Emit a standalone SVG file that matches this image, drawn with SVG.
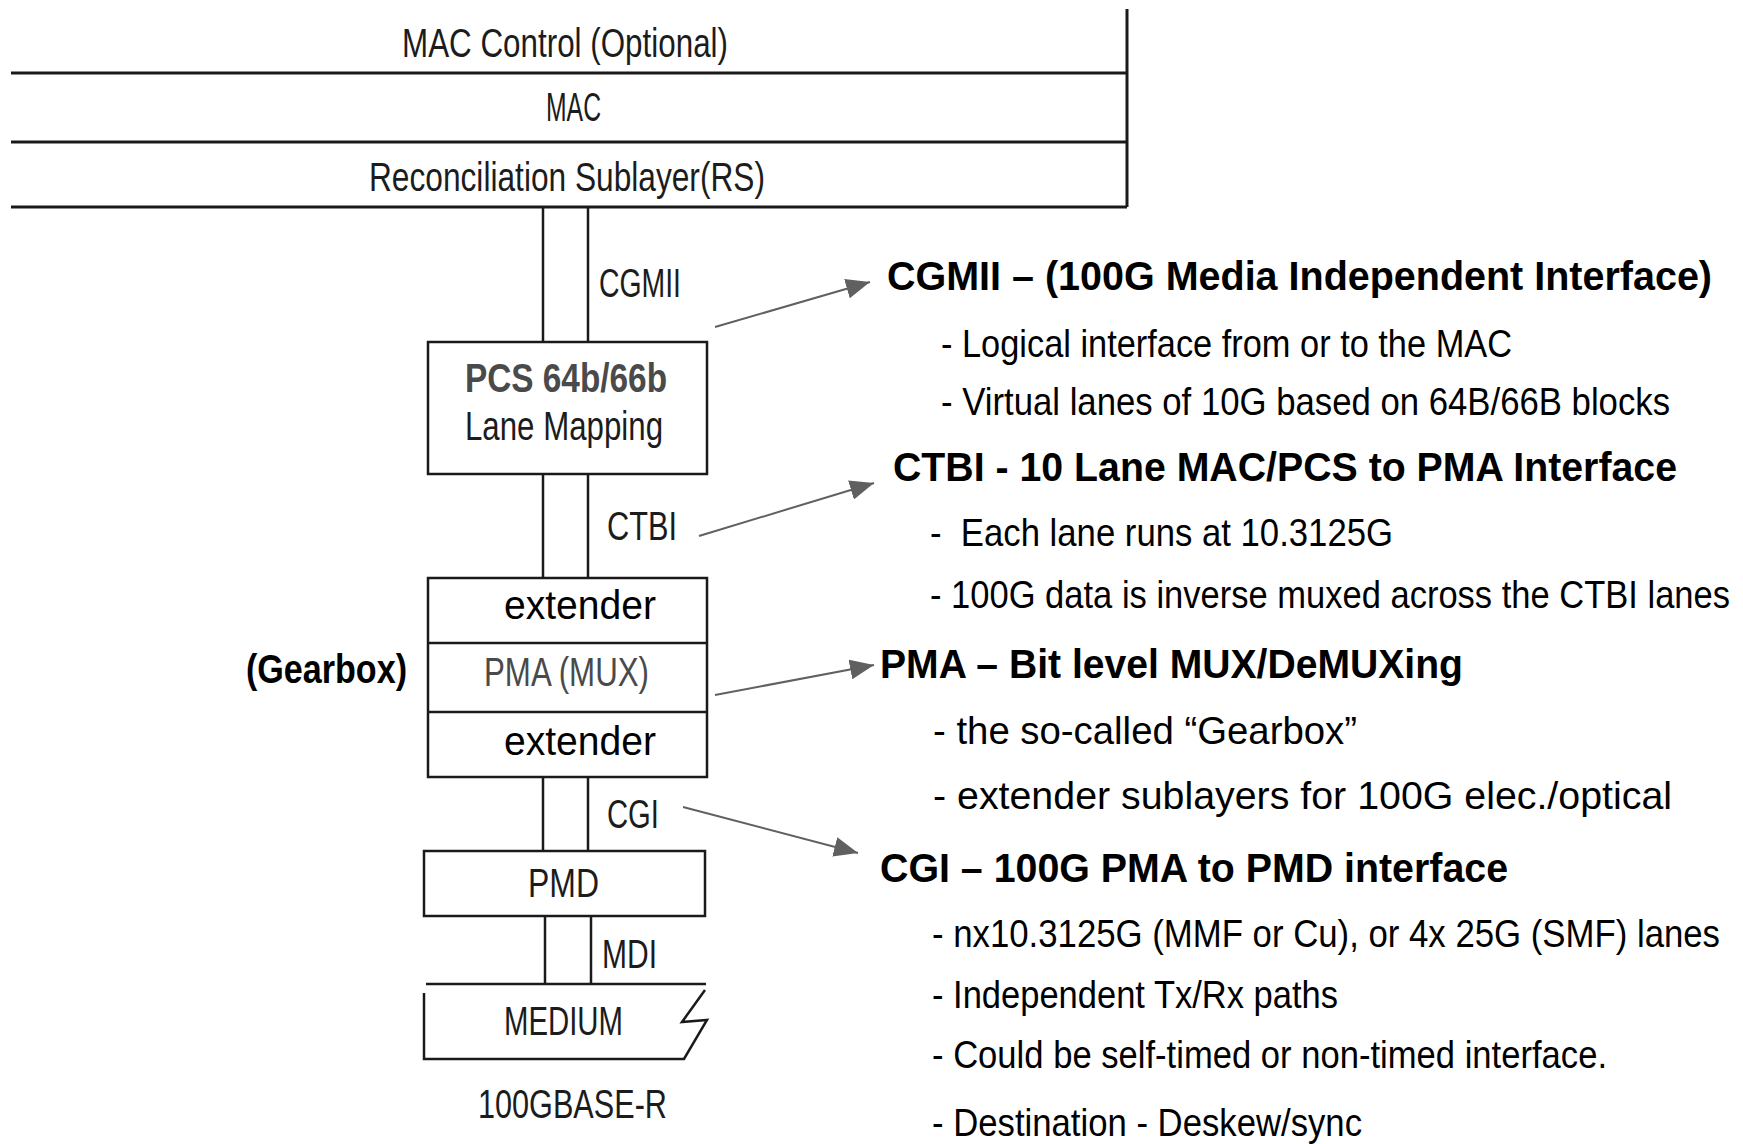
<svg xmlns="http://www.w3.org/2000/svg" width="1743" height="1144" viewBox="0 0 1743 1144">
  <defs>
    <style>
      .ln { stroke: #1a1a1a; stroke-width: 2.5; fill: none; }
      .bar { stroke: #1a1a1a; stroke-width: 3; fill: none; }
      .box { stroke: #1a1a1a; stroke-width: 2.5; fill: #ffffff; }
      .lbl { font-family: "Liberation Sans", Arial, sans-serif; font-size: 41px; fill: #1c1c1c; }
      .gray { fill: #4a4a4a; }
      .ext { font-family: "Liberation Sans", Arial, sans-serif; font-size: 40px; fill: #000; }
      .head { font-family: "Liberation Sans Narrow", "Liberation Sans", Arial, sans-serif; font-size: 40px; font-weight: bold; fill: #000; }
      .item { font-family: "Liberation Sans Narrow", "Liberation Sans", Arial, sans-serif; font-size: 39px; fill: #000; }
      .ptr { stroke: #606060; stroke-width: 2; fill: none; marker-end: url(#tip); }
    </style>
    <marker id="tip" markerUnits="userSpaceOnUse" markerWidth="24" markerHeight="20" viewBox="0 0 24 20" refX="24" refY="10" orient="auto">
      <path d="M0,0 L24,10 L0,20 z" fill="#606060"/>
    </marker>
  </defs>
  <rect width="1743" height="1144" fill="#ffffff"/>

  <!-- upper MAC stack -->
  <g id="mac-stack">
    <line class="bar" x1="1127" y1="9" x2="1127" y2="207"/>
    <line class="bar" x1="11" y1="73" x2="1127" y2="73"/>
    <line class="bar" x1="11" y1="142" x2="1127" y2="142"/>
    <line class="bar" x1="11" y1="207" x2="1127" y2="207"/>
    <text class="lbl" x="402" y="57" textLength="326" lengthAdjust="spacingAndGlyphs">MAC Control (Optional)</text>
    <text class="lbl" x="546" y="121" textLength="55" lengthAdjust="spacingAndGlyphs">MAC</text>
    <text class="lbl" x="369" y="191" textLength="396" lengthAdjust="spacingAndGlyphs">Reconciliation Sublayer(RS)</text>
  </g>

  <!-- interfaces between sublayers -->
  <g id="links">
    <line class="ln" x1="543" y1="207" x2="543" y2="342"/>
    <line class="ln" x1="588" y1="207" x2="588" y2="342"/>
    <line class="ln" x1="543" y1="474" x2="543" y2="578"/>
    <line class="ln" x1="588" y1="474" x2="588" y2="578"/>
    <line class="ln" x1="543" y1="777" x2="543" y2="851"/>
    <line class="ln" x1="588" y1="777" x2="588" y2="851"/>
    <line class="ln" x1="545" y1="916" x2="545" y2="984"/>
    <line class="ln" x1="591" y1="916" x2="591" y2="984"/>
    <text class="lbl" x="599" y="297" textLength="82" lengthAdjust="spacingAndGlyphs">CGMII</text>
    <text class="lbl" x="607" y="540" textLength="70" lengthAdjust="spacingAndGlyphs">CTBI</text>
    <text class="lbl" x="607" y="828" textLength="52" lengthAdjust="spacingAndGlyphs">CGI</text>
    <text class="lbl" x="602" y="968" textLength="55" lengthAdjust="spacingAndGlyphs">MDI</text>
  </g>

  <g id="pcs">
    <rect class="box" x="428" y="342" width="279" height="132"/>
    <text class="lbl gray" x="465" y="392" font-size="35" font-weight="bold" textLength="202" lengthAdjust="spacingAndGlyphs">PCS 64b/66b</text>
    <text class="lbl" x="465" y="440" textLength="198" lengthAdjust="spacingAndGlyphs">Lane Mapping</text>
  </g>

  <g id="pma">
    <rect class="box" x="428" y="578" width="279" height="199"/>
    <line class="ln" x1="428" y1="643" x2="707" y2="643"/>
    <line class="ln" x1="428" y1="712" x2="707" y2="712"/>
    <text class="ext" x="504" y="619" textLength="152" lengthAdjust="spacingAndGlyphs">extender</text>
    <text class="lbl gray" x="484" y="686" font-size="40" textLength="165" lengthAdjust="spacingAndGlyphs">PMA (MUX)</text>
    <text class="ext" x="504" y="755" textLength="152" lengthAdjust="spacingAndGlyphs">extender</text>
  </g>

  <g id="gearbox">
    <text class="head" x="246" y="683" font-size="40" textLength="161" lengthAdjust="spacingAndGlyphs">(Gearbox)</text>
  </g>

  <g id="pmd">
    <rect class="box" x="424" y="851" width="281" height="65"/>
    <text class="lbl" x="528" y="897" textLength="71" lengthAdjust="spacingAndGlyphs">PMD</text>
  </g>

  <g id="medium">
    <line class="ln" x1="426" y1="984" x2="706" y2="984"/>
    <polyline class="ln" points="424,993 424,1059 684,1059 707,1020 682,1022 705,990"/>
    <text class="lbl" x="504" y="1035" textLength="119" lengthAdjust="spacingAndGlyphs">MEDIUM</text>
    <text class="lbl" x="478" y="1118" textLength="189" lengthAdjust="spacingAndGlyphs">100GBASE-R</text>
  </g>

  <!-- pointers to the notes -->
  <g id="pointers">
    <line class="ptr" x1="715" y1="327" x2="870" y2="282"/>
    <line class="ptr" x1="699" y1="536" x2="874" y2="483"/>
    <line class="ptr" x1="715" y1="695" x2="874" y2="665"/>
    <line class="ptr" x1="683" y1="807" x2="858" y2="853"/>
  </g>

  <g id="note-cgmii">
    <text class="head" x="887" y="290" textLength="825" lengthAdjust="spacingAndGlyphs">CGMII – (100G Media Independent Interface)</text>
    <text class="item" x="941" y="357" textLength="571" lengthAdjust="spacingAndGlyphs">- Logical interface from or to the MAC</text>
    <text class="item" x="941" y="415" textLength="729" lengthAdjust="spacingAndGlyphs">- Virtual lanes of 10G based on 64B/66B blocks</text>
  </g>

  <g id="note-ctbi">
    <text class="head" x="893" y="481" textLength="784" lengthAdjust="spacingAndGlyphs">CTBI - 10 Lane MAC/PCS to PMA Interface</text>
    <text class="item" x="930" y="546" textLength="463" lengthAdjust="spacingAndGlyphs" xml:space="preserve">-  Each lane runs at 10.3125G</text>
    <text class="item" x="930" y="608" textLength="800" lengthAdjust="spacingAndGlyphs">- 100G data is inverse muxed across the CTBI lanes</text>
  </g>

  <g id="note-pma">
    <text class="head" x="880" y="678" textLength="583" lengthAdjust="spacingAndGlyphs">PMA – Bit level MUX/DeMUXing</text>
    <text class="item" x="933" y="744" textLength="424" lengthAdjust="spacingAndGlyphs">- the so-called “Gearbox”</text>
    <text class="item" x="933" y="809" textLength="739" lengthAdjust="spacingAndGlyphs">- extender sublayers for 100G elec./optical</text>
  </g>

  <g id="note-cgi">
    <text class="head" x="880" y="882" textLength="628" lengthAdjust="spacingAndGlyphs">CGI – 100G PMA to PMD interface</text>
    <text class="item" x="932" y="947" textLength="788" lengthAdjust="spacingAndGlyphs">- nx10.3125G (MMF or Cu), or 4x 25G (SMF) lanes</text>
    <text class="item" x="932" y="1008" textLength="406" lengthAdjust="spacingAndGlyphs">- Independent Tx/Rx paths</text>
    <text class="item" x="932" y="1068" textLength="675" lengthAdjust="spacingAndGlyphs">- Could be self-timed or non-timed interface.</text>
    <text class="item" x="932" y="1136" textLength="430" lengthAdjust="spacingAndGlyphs">- Destination - Deskew/sync</text>
  </g>
</svg>
